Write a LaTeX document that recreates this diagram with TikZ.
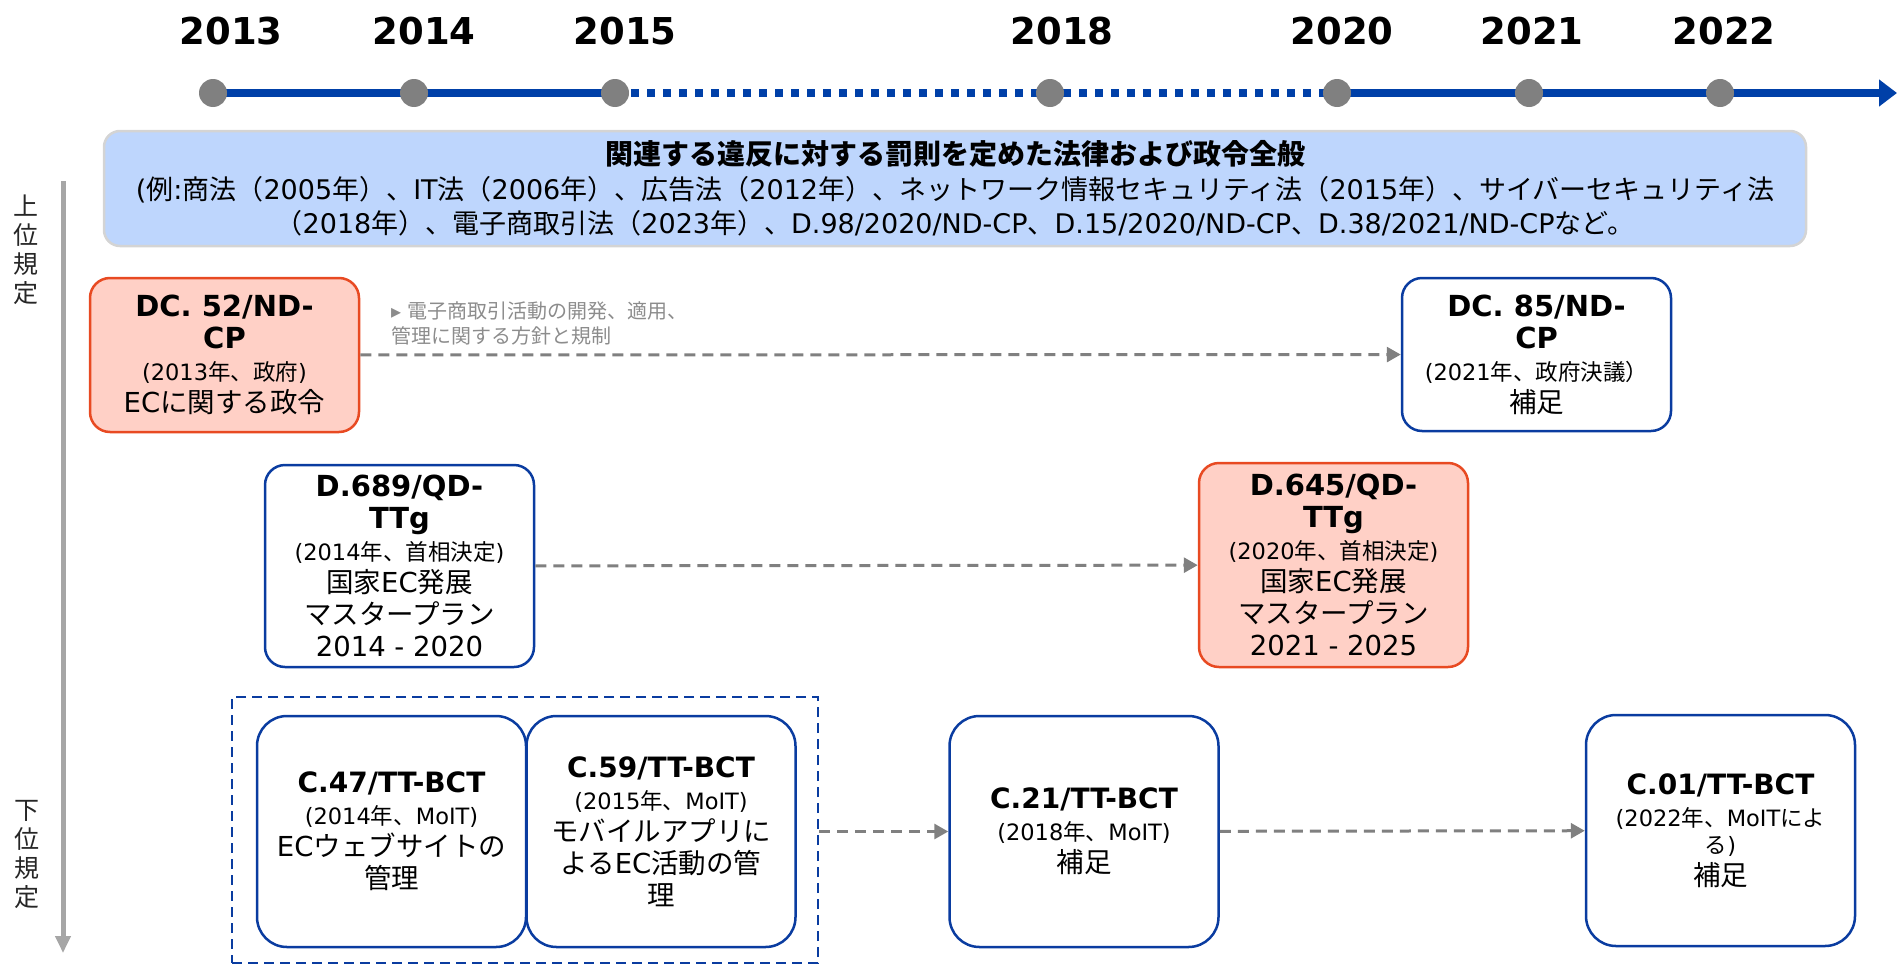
\documentclass[tikz,border=0pt]{standalone}
\usepackage{fontspec}
\setmainfont{DejaVu Sans}
\newfontfamily\jpfont{Noto Sans CJK JP}
\usetikzlibrary{arrows.meta}
% automatic switch to the Japanese font for CJK characters
\chardef\CJKcls=200
\newcount\cjkc
\def\setcjkrange#1#2{\cjkc=#1\relax\loop\XeTeXcharclass\cjkc=\CJKcls\relax\ifnum\cjkc<#2\relax\advance\cjkc by 1\relax\repeat}
\setcjkrange{"3000}{"30FF}
\setcjkrange{"4E00}{"9FFF}
\setcjkrange{"FF00}{"FFEF}
\XeTeXinterchartokenstate=1
\XeTeXinterchartoks 0 \CJKcls={\begingroup\jpfont}
\XeTeXinterchartoks 1 \CJKcls={\begingroup\jpfont}
\XeTeXinterchartoks 2 \CJKcls={\begingroup\jpfont}
\XeTeXinterchartoks 3 \CJKcls={\begingroup\jpfont}
\XeTeXinterchartoks 4095 \CJKcls={\begingroup\jpfont}
\XeTeXinterchartoks \CJKcls 0={\endgroup}
\XeTeXinterchartoks \CJKcls 1={\endgroup}
\XeTeXinterchartoks \CJKcls 2={\endgroup}
\XeTeXinterchartoks \CJKcls 3={\endgroup}
\XeTeXinterchartoks \CJKcls 4095={\endgroup}

\definecolor{tlblue}{RGB}{0,64,168}
\definecolor{boxblue}{RGB}{10,60,160}
\definecolor{dotgray}{RGB}{128,128,128}
\definecolor{axisgray}{RGB}{166,166,166}
\definecolor{conngray}{RGB}{128,128,128}
\definecolor{notegray}{RGB}{140,140,140}
\definecolor{salfill}{RGB}{255,208,198}
\definecolor{salborder}{RGB}{232,74,34}
\definecolor{lawfill}{RGB}{190,214,253}
\definecolor{lawborder}{RGB}{212,212,212}

\newcommand{\ttlA}[1]{{\bfseries\fontsize{29}{32}\selectfont #1}}
\newcommand{\ttlB}[1]{{\bfseries\fontsize{28}{32}\selectfont #1}}
\newcommand{\smlt}[1]{{\fontsize{22.5}{32}\selectfont #1}}
\newcommand{\bdyt}[1]{{\fontsize{27.5}{32}\selectfont #1}}

\tikzset{
  yearlab/.style={font=\bfseries\fontsize{37}{40}\selectfont, inner sep=0pt},
  tldot/.style={circle, fill=dotgray, minimum size=28pt, inner sep=0pt},
  tlsolid/.style={draw=tlblue, line width=8pt},
  tldotted/.style={draw=tlblue, line width=8pt, dash pattern=on 8pt off 8pt},
  docbox/.style={draw=boxblue, line width=2.5pt, fill=white, rounded corners=20pt,
    minimum width=269pt, align=center, inner sep=0pt, font=\fontsize{22}{32}\selectfont},
  redbox/.style={docbox, draw=salborder, fill=salfill},
  cbox/.style={docbox, rounded corners=30pt, minimum height=231pt},
  conn/.style={draw=conngray, line width=3pt, dash pattern=on 11pt off 7pt,
    -{Triangle[length=14pt,width=15pt]}},
  group/.style={draw=boxblue, line width=2.5pt, dash pattern=on 10pt off 6pt,
    minimum width=586pt, minimum height=266pt, inner sep=0pt},
  sidelab/.style={align=center, inner sep=0pt, text=black!85, font=\fontsize{25}{29}\selectfont},
  axis/.style={draw=axisgray, line width=5pt, -{Triangle[length=17pt,width=15pt]}},
  note/.style={align=left, inner sep=0pt, text=notegray, font=\fontsize{20}{25}\selectfont},
  lawbox/.style={draw=lawborder, line width=2.5pt, fill=lawfill, rounded corners=16pt,
    minimum width=1702pt, minimum height=115pt, align=center, inner sep=0pt,
    font=\fontsize{27}{34.5}\selectfont}
}

\begin{document}
\begin{tikzpicture}[x=1pt, y=-1pt]
\useasboundingbox (0,0) rectangle (1897,966);

% ---------- timeline ----------
\coordinate (c13) at (213,93);
\coordinate (c14) at (414,93);
\coordinate (c15) at (615,93);
\coordinate (c18) at (1050,93);
\coordinate (c20) at (1337,93);
\coordinate (c21) at (1529,93);
\coordinate (c22) at (1720,93);
\coordinate (tlend) at (1897,93);
\draw[tlsolid] (c13) -- (c15);
\draw[tldotted] (c15) -- (c20);
\draw[tlsolid, -{Triangle[length=18pt,width=26pt]}] (c20) -- (tlend);
\foreach \c in {13,14,15,18,20,21,22} { \node[tldot] (d\c) at (c\c) {}; }

\node[yearlab] (y13) at (231,31) {2013};
\node[yearlab] (y14) at (424,31) {2014};
\node[yearlab] (y15) at (625,31) {2015};
\node[yearlab] (y18) at (1062,31) {2018};
\node[yearlab] (y20) at (1342,31) {2020};
\node[yearlab] (y21) at (1532,31) {2021};
\node[yearlab] (y22) at (1724,31) {2022};

% ---------- general laws ----------
\node[lawbox] (law) at (955,188.5) {%
  {\bfseries\fontsize{28}{34.5}\selectfont 関連する違反に対する罰則を定めた法律および政令全般}\\
  (例:商法（2005年）、IT法（2006年）、広告法（2012年）、ネットワーク情報セキュリティ法（2015年）、サイバーセキュリティ法\\
  （2018年）、電子商取引法（2023年）、D.98/2020/ND-CP、D.15/2020/ND-CP、D.38/2021/ND-CPなど。};

% ---------- side axis ----------
\coordinate (axtop) at (63,181);
\coordinate (axbot) at (63,953);
\draw[axis] (axtop) -- (axbot);
\node[sidelab] (upper) at (26,249.5) {上\\位\\規\\定};
\node[sidelab] (lower) at (27,854) {下\\位\\規\\定};

% ---------- row 1 ----------
\node[redbox, minimum height=154pt] (dc52) at (224.5,355) {%
  \ttlA{DC. 52/ND-}\\ \ttlA{CP}\\ \smlt{(2013年、政府)}\\ \bdyt{ECに関する政令}};
\node[docbox, minimum height=153pt] (dc85) at (1536.5,354.5) {%
  \ttlA{DC. 85/ND-}\\ \ttlA{CP}\\ \smlt{(2021年、政府決議）}\\ \bdyt{補足}};
\node[note, anchor=west] (note) at (391,323.5) {▸ 電子商取引活動の開発、適用、\\管理に関する方針と規制};
\draw[conn] (dc52) -- (dc85);

% ---------- row 2 ----------
\node[docbox, minimum height=202pt] (d689) at (399.5,566) {%
  \ttlA{D.689/QD-}\\ \ttlA{TTg}\\ \smlt{(2014年、首相決定)}\\ \bdyt{国家EC発展}\\ \bdyt{マスタープラン}\\ \bdyt{2014 - 2020}};
\node[redbox, minimum height=204pt] (d645) at (1333.5,565) {%
  \ttlA{D.645/QD-}\\ \ttlA{TTg}\\ \smlt{(2020年、首相決定)}\\ \bdyt{国家EC発展}\\ \bdyt{マスタープラン}\\ \bdyt{2021 - 2025}};
\draw[conn] (d689) -- (d645);

% ---------- row 3 ----------
\node[group] (grp) at (525,830) {};
\node[cbox] (c47) at (391.5,831.5) {%
  \ttlB{C.47/TT-BCT}\\ \smlt{(2014年、MoIT)}\\ \bdyt{ECウェブサイトの}\\ \bdyt{管理}};
\node[cbox] (c59) at (661,831.5) {%
  \ttlB{C.59/TT-BCT}\\ \smlt{(2015年、MoIT)}\\ \bdyt{モバイルアプリに}\\ \bdyt{よるEC活動の管}\\ \bdyt{理}};
\node[cbox] (c21b) at (1084,831.5) {%
  \ttlB{C.21/TT-BCT}\\ \smlt{(2018年、MoIT)}\\ \bdyt{補足}};
\node[cbox] (c01) at (1720.5,830.5) {%
  \ttlB{C.01/TT-BCT}\\ \smlt{(2022年、MoITによ}\\[-5pt] \smlt{る)}\\ \bdyt{補足}};
\draw[conn] (grp.east |- c21b.west) -- (c21b.west);
\draw[conn] (c21b) -- (c01);
\end{tikzpicture}
\end{document}
